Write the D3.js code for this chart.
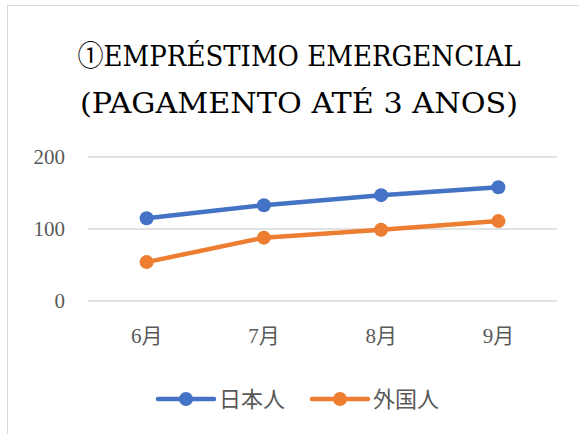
<!DOCTYPE html>
<html>
<head>
<meta charset="utf-8">
<script src="https://cdn.jsdelivr.net/npm/d3@7"></script>
<style>
  body { margin: 0; background: #fff; }
</style>
</head>
<body>
<div id="chart"></div>
<script>
const months = ["6月", "7月", "8月", "9月"];
const japanese = [115, 133, 147, 158];
const foreign = [54, 88, 99, 111];
const yTicks = [0, 100, 200];
const seriesNames = ["日本人", "外国人"];
const titleLines = ["①EMPRÉSTIMO EMERGENCIAL", "(PAGAMENTO ATÉ 3 ANOS)"];

const width = 579;
const height = 434;
const colors = ["#4472c4", "#ed7d31"];
const serif = "'DejaVu Serif', 'Noto Sans CJK JP', serif";

const svg = d3.select("#chart")
    .append("svg")
    .attr("width", width)
    .attr("height", height);

// chart frame
svg.append("rect")
    .attr("x", 7.5)
    .attr("y", 5.5)
    .attr("width", 700)
    .attr("height", 600)
    .attr("fill", "#fff")
    .attr("stroke", "#d9d9d9");

svg.selectAll(".title")
    .data(titleLines)
    .enter()
    .append("text")
    .attr("class", "title")
    .attr("x", 299)
    .attr("y", (d, i) => 66 + i * 47)
    .attr("text-anchor", "middle")
    .attr("textLength", (d, i) => i === 0 ? 443 : 438)
    .attr("lengthAdjust", "spacingAndGlyphs")
    .style("font-family", serif)
    .style("font-size", "28px")
    .style("fill", "#000")
    .text(d => d);

const x = d3.scaleBand()
    .domain(months)
    .range([88, 557]);

const y = d3.scaleLinear()
    .domain([0, 200])
    .range([301, 157]);

// gridlines
svg.selectAll(".grid")
    .data(yTicks)
    .enter()
    .append("line")
    .attr("x1", 88)
    .attr("x2", 557)
    .attr("y1", d => y(d))
    .attr("y2", d => y(d))
    .attr("stroke", "#d9d9d9")
    .attr("stroke-width", 1.3);

const yAxis = svg.append("g")
    .attr("transform", "translate(65,0)")
    .call(d3.axisLeft(y).tickValues(yTicks).tickSize(0).tickPadding(0));
yAxis.select(".domain").remove();
yAxis.selectAll("text")
    .style("font-family", "'Liberation Serif', serif")
    .style("font-size", "21px")
    .style("fill", "#595959")
    .attr("dy", "0.3em");

const xAxis = svg.append("g")
    .attr("transform", "translate(0,328)")
    .call(d3.axisBottom(x).tickSize(0).tickPadding(0));
xAxis.select(".domain").remove();
xAxis.selectAll("text")
    .style("font-family", "'Liberation Serif', 'Noto Sans CJK JP', serif")
    .style("font-size", "21px")
    .style("fill", "#595959")
    .attr("dy", "0.71em");

const data = [japanese, foreign];
const line = d3.line()
    .x((d, i) => x(months[i]) + x.bandwidth() / 2)
    .y(d => y(d));

data.forEach((values, s) => {
    svg.append("path")
        .datum(values)
        .attr("d", line)
        .attr("fill", "none")
        .attr("stroke", colors[s])
        .attr("stroke-width", 4.5)
        .attr("stroke-linecap", "round");

    svg.selectAll(".dot" + s)
        .data(values)
        .enter()
        .append("circle")
        .attr("cx", (d, i) => x(months[i]) + x.bandwidth() / 2)
        .attr("cy", d => y(d))
        .attr("r", 7)
        .attr("fill", colors[s]);
});

// legend
const legendX = [158, 312];
seriesNames.forEach((name, s) => {
    const g = svg.append("g")
        .attr("transform", `translate(${legendX[s]},399)`);
    g.append("line")
        .attr("x1", 0)
        .attr("x2", 56)
        .attr("stroke", colors[s])
        .attr("stroke-width", 4.5)
        .attr("stroke-linecap", "round");
    g.append("circle")
        .attr("cx", 28)
        .attr("r", 7)
        .attr("fill", colors[s]);
    g.append("text")
        .attr("x", 61)
        .attr("dy", "0.35em")
        .style("font-family", "'Noto Sans CJK JP', sans-serif")
        .style("font-size", "22px")
        .style("fill", "#595959")
        .text(name);
});
</script>
</body>
</html>
